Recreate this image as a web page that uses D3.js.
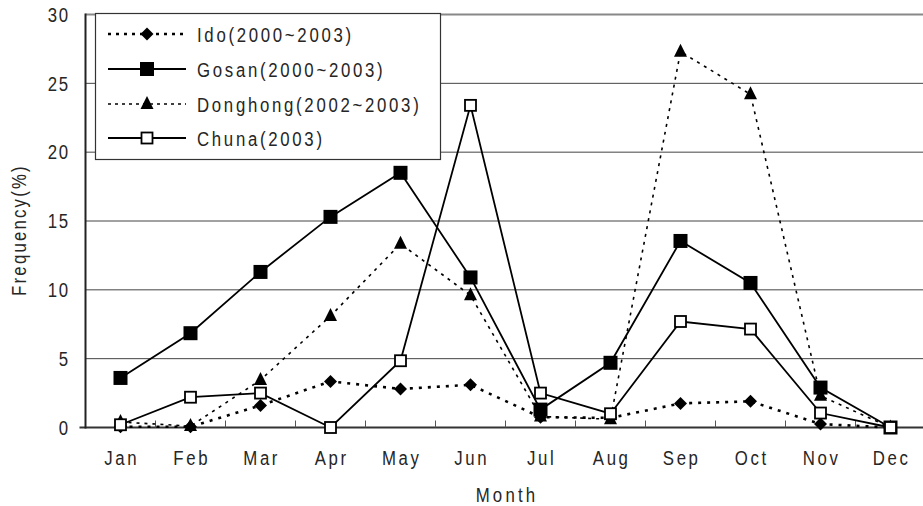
<!DOCTYPE html>
<html><head><meta charset="utf-8">
<script src="https://cdn.jsdelivr.net/npm/d3@7"></script>
<style>
body{margin:0;background:#fff;}
text{font-family:"Liberation Sans",Arial,sans-serif;fill:#262626;}
</style></head>
<body><svg id="c" width="923" height="506"></svg>
<script>
const months = ["Jan","Feb","Mar","Apr","May","Jun","Jul","Aug","Sep","Oct","Nov","Dec"];
const yTicks = [0,5,10,15,20,25,30];
const ido      = [0.05,0.05,1.6,3.35,2.8,3.1,0.75,0.7,1.75,1.9,0.25,0];
const gosan    = [3.6,6.85,11.3,15.3,18.5,10.9,1.3,4.7,13.55,10.5,2.9,0];
const donghong = [0.4,0.1,3.45,8.1,13.35,9.6,0.8,0.6,27.3,24.2,2.3,0];
const chuna    = [0.2,2.2,2.5,0,4.85,23.4,2.5,1.0,7.7,7.15,1.05,0];
const seriesNames = ["Ido(2000~2003)","Gosan(2000~2003)","Donghong(2002~2003)","Chuna(2003)"];

const FONT = "'Liberation Sans',Arial,sans-serif";
const FS = 21, SX = 0.8;
const svg = d3.select("#c");
const L = 85.5, R = 925.5, T = 14.5, B = 427.5;
const x = d3.scaleBand().domain(months).range([L, R]);
const y = d3.scaleLinear().domain([0,30]).range([B, T]);
const cx = m => x(m) + x.bandwidth()/2;

// grid
svg.append("g").selectAll("line").data(yTicks.filter(v=>v>0&&v<30)).join("line")
  .attr("x1", L).attr("x2", 923).attr("y1", d=>y(d)).attr("y2", d=>y(d))
  .attr("stroke", "#444").attr("stroke-width", 1);
svg.append("line").attr("x1", L).attr("x2", 923).attr("y1", y(30)).attr("y2", y(30))
  .attr("stroke", "#888").attr("stroke-width", 2);

// x axis
const xAxis = d3.axisBottom(x).tickSize(0).tickPadding(23);
const gx = svg.append("g").attr("transform", `translate(0,${B})`).call(xAxis);
gx.select(".domain").remove();
gx.selectAll("text").attr("font-size", FS).attr("letter-spacing", (2.6/SX)+"px").attr("dx", "1.5px")
  .attr("transform", `scale(${SX},1)`)
  .style("font-family", FONT).attr("fill", "#262626");
svg.append("line").attr("x1", L-6).attr("x2", 923).attr("y1", B).attr("y2", B)
  .attr("stroke", "#333").attr("stroke-width", 2);
svg.append("g").selectAll("line").data(months.slice(1)).join("line")
  .attr("x1", d=>x(d)).attr("x2", d=>x(d)).attr("y1", B).attr("y2", B-7)
  .attr("stroke", "#555").attr("stroke-width", 1);

// y axis
const yAxis = d3.axisLeft(y).tickValues(yTicks).tickSize(0).tickPadding(16);
const gy = svg.append("g").attr("transform", `translate(${L},0)`).call(yAxis);
gy.select(".domain").remove();
gy.selectAll("text").attr("font-size", FS).attr("letter-spacing", (1.5/SX)+"px")
  .attr("x", -16/SX).attr("transform", `scale(${SX},1)`)
  .style("font-family", FONT).attr("fill", "#262626");
svg.append("line").attr("x1", L).attr("x2", L).attr("y1", T-1).attr("y2", B+1)
  .attr("stroke", "#222").attr("stroke-width", 2);

// titles
svg.append("text").attr("transform", `translate(507,502) scale(${SX},1)`).attr("text-anchor", "middle")
  .attr("font-size", FS).attr("letter-spacing", (3.2/SX)+"px").text("Month");
svg.append("text").attr("transform", `translate(26,230) rotate(-90) scale(${SX},1)`).attr("text-anchor", "middle")
  .attr("font-size", FS).attr("letter-spacing", (2.2/SX)+"px").text("Frequency(%)");

const styles = [
  {data: ido, dash: "3,6", w: 2.6, marker: "diamond"},
  {data: gosan, dash: null, w: 1.8, marker: "filled"},
  {data: donghong, dash: "3,5", w: 1.6, marker: "triangle"},
  {data: chuna, dash: null, w: 1.8, marker: "open"}
];
const line = d3.line().x((d,i)=>cx(months[i])).y(d=>y(d));

function drawMarker(g, type, px, py) {
  if (type === "diamond") {
    g.append("path").attr("d", `M${px},${py-6.5}L${px+6.5},${py}L${px},${py+6.5}L${px-6.5},${py}Z`).attr("fill", "#000");
  } else if (type === "filled") {
    g.append("rect").attr("x", px-7).attr("y", py-7).attr("width", 14).attr("height", 14).attr("fill", "#000");
  } else if (type === "triangle") {
    g.append("path").attr("d", `M${px},${py-8}L${px+6.5},${py+5}L${px-6.5},${py+5}Z`).attr("fill", "#000");
  } else {
    g.append("rect").attr("x", px-5.5).attr("y", py-5.5).attr("width", 11).attr("height", 11)
      .attr("fill", "#fff").attr("stroke", "#000").attr("stroke-width", 1.8);
  }
}

styles.forEach(s => {
  svg.append("path").datum(s.data).attr("d", line).attr("fill", "none")
    .attr("stroke", "#000").attr("stroke-width", s.w)
    .attr("stroke-dasharray", s.dash);
});
styles.forEach(s => {
  const g = svg.append("g");
  s.data.forEach((v,i) => drawMarker(g, s.marker, cx(months[i]), y(v)));
});

// legend
const lg = svg.append("g");
lg.append("rect").attr("x", 95.5).attr("y", 13.5).attr("width", 345).attr("height", 146)
  .attr("fill", "#fff").attr("stroke", "#333").attr("stroke-width", 1.2);
const rowsY = [34, 69, 104, 138];
styles.forEach((s, i) => {
  const yy = rowsY[i];
  lg.append("line").attr("x1", 108).attr("x2", 186).attr("y1", yy).attr("y2", yy)
    .attr("stroke", "#000").attr("stroke-width", s.dash ? (i===0?2.6:1.4) : 1.8)
    .attr("stroke-dasharray", s.dash ? (i===0 ? "3,5" : "3,4") : null);
  drawMarker(lg, s.marker, 147, yy);
  lg.append("text").attr("transform", `translate(197,${yy}) scale(${SX},1)`).attr("dy", "0.36em")
    .attr("font-size", FS).attr("letter-spacing", (2.7/SX)+"px").text(seriesNames[i]);
});
</script></body></html>
